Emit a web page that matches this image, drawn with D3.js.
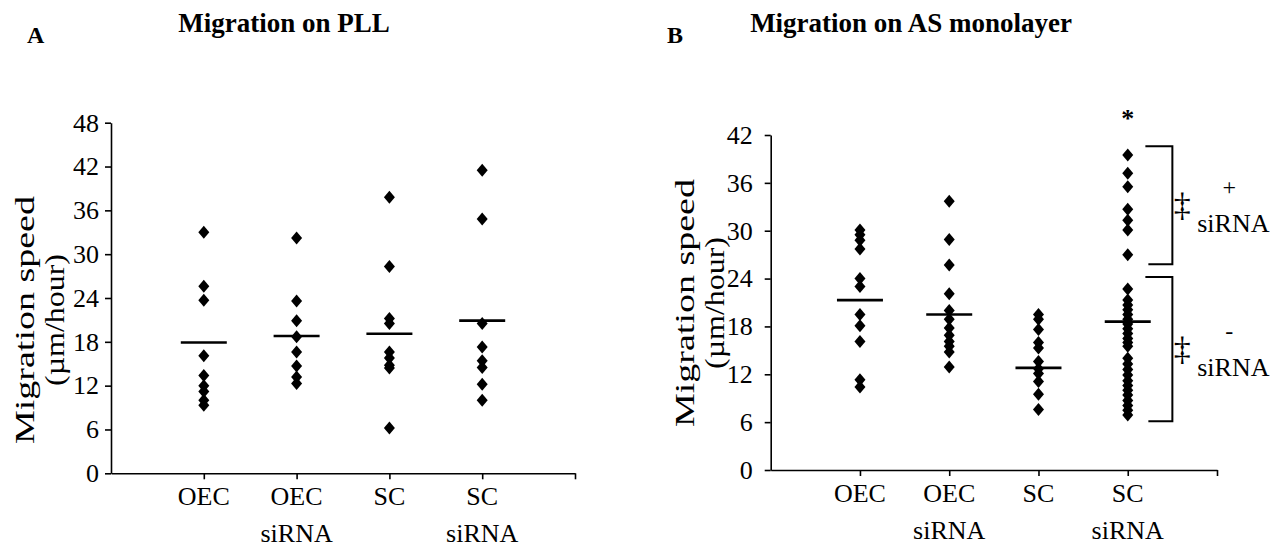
<!DOCTYPE html>
<html>
<head>
<meta charset="utf-8">
<script src="https://cdn.jsdelivr.net/npm/d3@7"></script>
<style>
  html, body { margin: 0; padding: 0; background: #fff; }
  svg { display: block; }
  text { font-family: "Liberation Serif", "Times New Roman", serif; fill: #000; }
</style>
</head>
<body>
<svg id="chart" width="1275" height="558"></svg>
<script>
// Category labels (one entry per line of text)
const categoryLines = [["OEC"], ["OEC", "siRNA"], ["SC"], ["SC", "siRNA"]];

// Panel A: migration speed on PLL (µm/hour), one array per group
const pllOEC      = [33.0, 25.6, 23.7, 16.1, 13.4, 12.0, 11.2, 10.0, 9.3];
const pllOECsiRNA = [32.2, 23.6, 20.9, 18.7, 16.6, 14.7, 13.2, 12.3];
const pllSC       = [37.8, 28.3, 21.2, 20.5, 16.6, 15.8, 14.8, 14.4, 6.2];
const pllSCsiRNA  = [41.5, 34.8, 20.5, 17.3, 15.4, 14.5, 12.2, 10.0];
const pllMeans    = [17.9, 18.8, 19.1, 20.9];
const pllTicks    = [0, 6, 12, 18, 24, 30, 36, 42, 48];

// Panel B: migration speed on astrocyte monolayer (µm/hour)
const asOEC       = [30.1, 29.5, 28.8, 27.7, 24.0, 23.0, 19.5, 18.1, 16.1, 11.3, 10.4];
const asOECsiRNA  = [33.7, 28.9, 25.7, 22.1, 20.0, 18.9, 17.8, 16.9, 16.1, 15.5, 14.8, 12.9];
const asSC        = [19.5, 18.9, 17.6, 16.0, 15.3, 13.6, 12.7, 12.1, 11.1, 9.5, 7.6];
const asSCsiRNA   = [39.5, 37.2, 35.5, 32.7, 31.3, 30.1, 27.0, 22.7,
                     21.3, 20.7, 20.1, 19.5, 18.9, 18.3, 17.7, 17.1, 16.5, 16.0, 15.5,
                     14.0, 13.3, 12.6, 11.9, 11.2, 10.6, 10.0, 9.4, 8.7, 8.1, 7.5, 6.9];
const asMeans     = [21.3, 19.5, 12.8, 18.6];
const asTicks     = [0, 6, 12, 18, 24, 30, 36, 42];

// Bracketed ranges in the SC siRNA group: [top, bottom, sign]
const siRNABrackets = [[40.6, 25.8, "+"], [24.2, 6.1, "-"]];

const svg = d3.select("#chart");

function drawPanel(cfg) {
  const g = svg.append("g");
  const x = d3.scaleLinear().domain([0, 5]).range([cfg.left, cfg.right]);
  const y = d3.scaleLinear().domain([0, cfg.yMax]).range([cfg.bottom, cfg.top]);

  // y axis
  const yAxis = g.append("g")
    .attr("transform", `translate(${cfg.left},0)`)
    .call(d3.axisLeft(y).tickValues(cfg.ticks).tickSize(6).tickSizeOuter(0).tickPadding(cfg.tickPad));
  yAxis.selectAll("text").style("font-size", "26px")
    .style("font-family", '"Liberation Serif", serif').attr("fill", "#000");

  // x axis (ticks at group centres and at the far end)
  g.append("g")
    .attr("transform", `translate(0,${cfg.bottom})`)
    .call(d3.axisBottom(x).tickValues([1, 2, 3, 4, 5]).tickSize(6).tickSizeOuter(0).tickFormat(""));
  g.selectAll(".domain, .tick line").attr("stroke", "#000").attr("stroke-width", 1.6);

  // category labels
  categoryLines.forEach((lines, i) => {
    lines.forEach((t, j) => {
      g.append("text")
        .attr("x", x(i + 1))
        .attr("y", cfg.bottom + 32 + j * 37)
        .attr("text-anchor", "middle")
        .style("font-size", "26px")
        .text(t);
    });
  });

  // y-axis title (two lines, rotated)
  const titleLines = [["Migration speed", 0, 248], ["(\u00b5m/hour)", 30, 132]];
  titleLines.forEach(([t, dx, len]) => {
    g.append("text")
      .attr("transform", `translate(${cfg.titleX + dx},${cfg.titleY}) rotate(-90)`)
      .attr("x", -len / 2)
      .attr("textLength", len)
      .attr("lengthAdjust", "spacingAndGlyphs")
      .style("font-size", "28px")
      .text(t);
  });

  // points
  const diamond = "M0,-6.5L5.5,0L0,6.5L-5.5,0Z";
  cfg.groups.forEach((vals, i) => {
    g.append("g").selectAll("path")
      .data(vals)
      .join("path")
      .attr("d", diamond)
      .attr("transform", d => `translate(${x(i + 1)},${y(d)})`)
      .attr("fill", "#000");
  });

  // group means
  g.append("g").selectAll("line")
    .data(cfg.means)
    .join("line")
    .attr("x1", (d, i) => x(i + 1) - 23)
    .attr("x2", (d, i) => x(i + 1) + 23)
    .attr("y1", d => y(d))
    .attr("y2", d => y(d))
    .attr("stroke", "#000")
    .attr("stroke-width", 2.6);

  // panel title and letter
  g.append("text")
    .attr("x", cfg.headX).attr("y", 32)
    .attr("text-anchor", "middle")
    .style("font-size", "27px").style("font-weight", "bold")
    .text(cfg.title);
  g.append("text")
    .attr("x", cfg.letterX).attr("y", 43)
    .style("font-size", "24px").style("font-weight", "bold")
    .text(cfg.letter);

  return { g, x, y };
}

drawPanel({
  left: 111, right: 575, top: 122.7, bottom: 473.3, yMax: 48, ticks: pllTicks, tickPad: 6,
  groups: [pllOEC, pllOECsiRNA, pllSC, pllSCsiRNA], means: pllMeans,
  titleX: 34, titleY: 320, headX: 284, title: "Migration on PLL", letterX: 27, letter: "A"
});

const b = drawPanel({
  left: 770.7, right: 1217, top: 135, bottom: 470, yMax: 42, ticks: asTicks, tickPad: 12,
  groups: [asOEC, asOECsiRNA, asSC, asSCsiRNA], means: asMeans,
  titleX: 694, titleY: 303, headX: 911, title: "Migration on AS monolayer", letterX: 667, letter: "B"
});

// significance mark above the SC siRNA group
b.g.append("text")
  .attr("x", b.x(4)).attr("y", 127)
  .attr("text-anchor", "middle")
  .style("font-size", "26px").style("font-weight", "bold")
  .text("*");

// brackets for SC siRNA sub-populations
const bx = b.x(4.5);
siRNABrackets.forEach(([hi, lo, sign]) => {
  b.g.append("path")
    .attr("d", `M${bx - 27},${b.y(hi)}H${bx}V${b.y(lo)}H${bx - 24}`)
    .attr("fill", "none").attr("stroke", "#000").attr("stroke-width", 2);
  const mid = (b.y(hi) + b.y(lo)) / 2;
  b.g.append("text")
    .attr("x", bx + 10).attr("y", mid + 11)
    .attr("text-anchor", "middle")
    .style("font-size", "34px")
    .style("fill", "#000")
    .text("\u2021");
  b.g.append("text")
    .attr("x", bx + 57).attr("y", mid - 10)
    .attr("text-anchor", "middle")
    .style("font-size", "24px")
    .text(sign);
  b.g.append("text")
    .attr("x", bx + 61).attr("y", mid + 27)
    .attr("text-anchor", "middle")
    .style("font-size", "26px")
    .text("siRNA");
});
</script>
</body>
</html>
